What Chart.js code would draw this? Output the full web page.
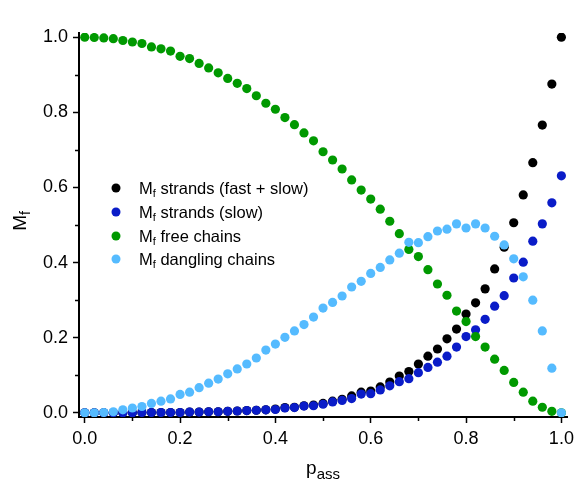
<!DOCTYPE html>
<html>
<head>
<meta charset="utf-8">
<script src="https://cdn.jsdelivr.net/npm/chart.js@4.4.1/dist/chart.umd.min.js"></script>
<style>
  html, body { margin: 0; padding: 0; background: #fff; }
  #wrap { width: 579px; height: 486px; }
</style>
</head>
<body>
<div id="wrap"><canvas id="mfChart" width="579" height="486"></canvas></div>
<script>
// fraction of associated stickers
const pAss = [
  0.00, 0.02, 0.04, 0.06, 0.08, 0.10, 0.12, 0.14, 0.16, 0.18,
  0.20, 0.22, 0.24, 0.26, 0.28, 0.30, 0.32, 0.34, 0.36, 0.38,
  0.40, 0.42, 0.44, 0.46, 0.48, 0.50, 0.52, 0.54, 0.56, 0.58,
  0.60, 0.62, 0.64, 0.66, 0.68, 0.70, 0.72, 0.74, 0.76, 0.78,
  0.80, 0.82, 0.84, 0.86, 0.88, 0.90, 0.92, 0.94, 0.96, 0.98, 1.00
];

// M_f strands (fast + slow)
const strandsAll = [
  0.000, 0.000, 0.000, 0.000, 0.000, 0.000, 0.001, 0.001, 0.001, 0.001,
  0.001, 0.002, 0.002, 0.003, 0.003, 0.004, 0.005, 0.006, 0.007, 0.008,
  0.010, 0.014, 0.015, 0.019, 0.021, 0.025, 0.031, 0.036, 0.045, 0.055,
  0.058, 0.069, 0.082, 0.098, 0.110, 0.130, 0.151, 0.170, 0.197, 0.223,
  0.263, 0.293, 0.330, 0.383, 0.441, 0.506, 0.580, 0.666, 0.766, 0.875, 1.000
];

// M_f strands (slow)
const strandsSlow = [
  0.000, 0.000, 0.000, 0.000, 0.000, 0.000, 0.001, 0.001, 0.001, 0.001,
  0.001, 0.002, 0.002, 0.003, 0.003, 0.004, 0.005, 0.006, 0.007, 0.008,
  0.009, 0.013, 0.014, 0.018, 0.019, 0.023, 0.029, 0.033, 0.038, 0.050,
  0.051, 0.061, 0.072, 0.083, 0.091, 0.107, 0.121, 0.135, 0.151, 0.175,
  0.203, 0.221, 0.249, 0.284, 0.312, 0.359, 0.401, 0.457, 0.503, 0.559, 0.631
];

// M_f free chains
const freeChains = [
  1.000, 0.999, 0.998, 0.996, 0.991, 0.987, 0.983, 0.974, 0.969, 0.963,
  0.949, 0.943, 0.930, 0.918, 0.905, 0.890, 0.877, 0.863, 0.844, 0.824,
  0.808, 0.786, 0.767, 0.745, 0.724, 0.695, 0.673, 0.649, 0.620, 0.593,
  0.569, 0.542, 0.510, 0.477, 0.435, 0.416, 0.381, 0.343, 0.313, 0.271,
  0.243, 0.203, 0.175, 0.143, 0.113, 0.081, 0.055, 0.031, 0.015, 0.004, 0.000
];

// M_f dangling chains
const danglingChains = [
  0.000, 0.000, 0.001, 0.003, 0.008, 0.013, 0.017, 0.025, 0.031, 0.037,
  0.049, 0.055, 0.067, 0.079, 0.090, 0.104, 0.117, 0.130, 0.146, 0.167,
  0.183, 0.201, 0.218, 0.235, 0.255, 0.279, 0.294, 0.311, 0.335, 0.350,
  0.371, 0.387, 0.407, 0.425, 0.454, 0.453, 0.469, 0.484, 0.489, 0.503,
  0.492, 0.503, 0.492, 0.470, 0.447, 0.410, 0.362, 0.300, 0.218, 0.119, 0.000
];

const seriesNames = ['strands (fast + slow)', 'strands (slow)', 'free chains', 'dangling chains'];
const seriesColors = ['#000000', '#0a1cc8', '#009900', '#55bbff'];

const xMajor = [0, 0.2, 0.4, 0.6, 0.8, 1.0];
const xMinor = [0.1, 0.3, 0.5, 0.7, 0.9];
const yMajor = [0, 0.2, 0.4, 0.6, 0.8, 1.0];
const yMinor = [0.1, 0.3, 0.5, 0.7, 0.9];

const FONT = 'Arial, "Liberation Sans", sans-serif';

function toPoints(ys) {
  return pAss.map((p, i) => ({ x: p, y: ys[i] }));
}

const allSeries = [strandsAll, strandsSlow, freeChains, danglingChains];
const datasets = allSeries.map((ys, i) => ({
  label: 'M_f ' + seriesNames[i],
  data: toPoints(ys),
  backgroundColor: seriesColors[i],
  borderColor: seriesColors[i],
  pointRadius: 4.6,
  pointBorderWidth: 0,
  pointHoverRadius: 4.6,
  showLine: false,
  // later series sit on top
  order: allSeries.length - i
}));

// text with a subscript part: main, sub, then the rest
function drawSubText(ctx, x, y, main, sub, rest, size, subSize, subDrop) {
  ctx.font = size + 'px ' + FONT;
  ctx.fillText(main, x, y);
  x += ctx.measureText(main).width;
  ctx.font = subSize + 'px ' + FONT;
  ctx.fillText(sub, x, y + subDrop);
  x += ctx.measureText(sub).width;
  if (rest) {
    ctx.font = size + 'px ' + FONT;
    ctx.fillText(rest, x, y);
  }
}

function subTextWidth(ctx, main, sub, rest, size, subSize) {
  ctx.font = size + 'px ' + FONT;
  let w = ctx.measureText(main + (rest || '')).width;
  ctx.font = subSize + 'px ' + FONT;
  return w + ctx.measureText(sub).width;
}

const decorations = {
  id: 'decorations',
  afterDraw(chart) {
    const ctx = chart.ctx;
    const xs = chart.scales.x;
    const ys = chart.scales.y;
    const area = chart.chartArea;
    ctx.save();
    ctx.strokeStyle = '#000';
    ctx.lineWidth = 1.5;

    // minor ticks
    ctx.beginPath();
    xMinor.forEach(v => {
      const px = Math.round(xs.getPixelForValue(v)) + 0.5;
      ctx.moveTo(px, area.bottom);
      ctx.lineTo(px, area.bottom + 4);
    });
    yMinor.forEach(v => {
      const py = Math.round(ys.getPixelForValue(v)) + 0.5;
      ctx.moveTo(area.left, py);
      ctx.lineTo(area.left - 4, py);
    });
    ctx.stroke();

    ctx.fillStyle = '#000';
    ctx.textBaseline = 'alphabetic';
    ctx.textAlign = 'left';

    // axis titles
    const xw = subTextWidth(ctx, 'p', 'ass', '', 19, 15);
    drawSubText(ctx, (area.left + area.right) / 2 - xw / 2, 474, 'p', 'ass', '', 19, 15, 5);

    const yw = subTextWidth(ctx, 'M', 'f', '', 19, 14);
    ctx.save();
    ctx.translate(26, 221);
    ctx.rotate(-Math.PI / 2);
    drawSubText(ctx, -yw / 2, 0, 'M', 'f', '', 19, 14, 4);
    ctx.restore();

    // legend
    const rowY = [188, 212, 236, 259];
    seriesNames.forEach((name, i) => {
      ctx.fillStyle = seriesColors[i];
      ctx.beginPath();
      ctx.arc(116, rowY[i], 4.5, 0, Math.PI * 2);
      ctx.fill();
      ctx.fillStyle = '#000';
      drawSubText(ctx, 139, rowY[i] + 6, 'M', 'f', ' ' + name, 16.5, 11, 3);
    });
    ctx.restore();
  }
};

new Chart(document.getElementById('mfChart'), {
  type: 'scatter',
  data: { datasets: datasets },
  plugins: [decorations],
  options: {
    responsive: false,
    animation: false,
    devicePixelRatio: 1,
    layout: { padding: { left: 0, right: 9, top: 33, bottom: 0 } },
    plugins: {
      legend: { display: false },
      tooltip: { enabled: false }
    },
    scales: {
      x: {
        type: 'linear',
        min: -0.012,
        max: 1.012,
        afterBuildTicks: s => { s.ticks = xMajor.map(v => ({ value: v })); },
        afterFit: s => { s.height = 69; },
        ticks: {
          color: '#000',
          font: { family: FONT, size: 18 },
          padding: 5,
          maxRotation: 0,
          autoSkip: false,
          callback: v => v.toFixed(1)
        },
        grid: {
          drawOnChartArea: false,
          drawTicks: true,
          tickLength: 6,
          tickWidth: 1.5,
          tickColor: '#000'
        },
        border: { display: true, color: '#000', width: 2 }
      },
      y: {
        type: 'linear',
        min: -0.011,
        max: 1.011,
        afterBuildTicks: s => { s.ticks = yMajor.map(v => ({ value: v })); },
        afterFit: s => { s.width = 79; },
        ticks: {
          color: '#000',
          font: { family: FONT, size: 18 },
          padding: 5,
          autoSkip: false,
          callback: v => v.toFixed(1)
        },
        grid: {
          drawOnChartArea: false,
          drawTicks: true,
          tickLength: 6,
          tickWidth: 1.5,
          tickColor: '#000'
        },
        border: { display: true, color: '#000', width: 2 }
      }
    }
  }
});
</script>
</body>
</html>
